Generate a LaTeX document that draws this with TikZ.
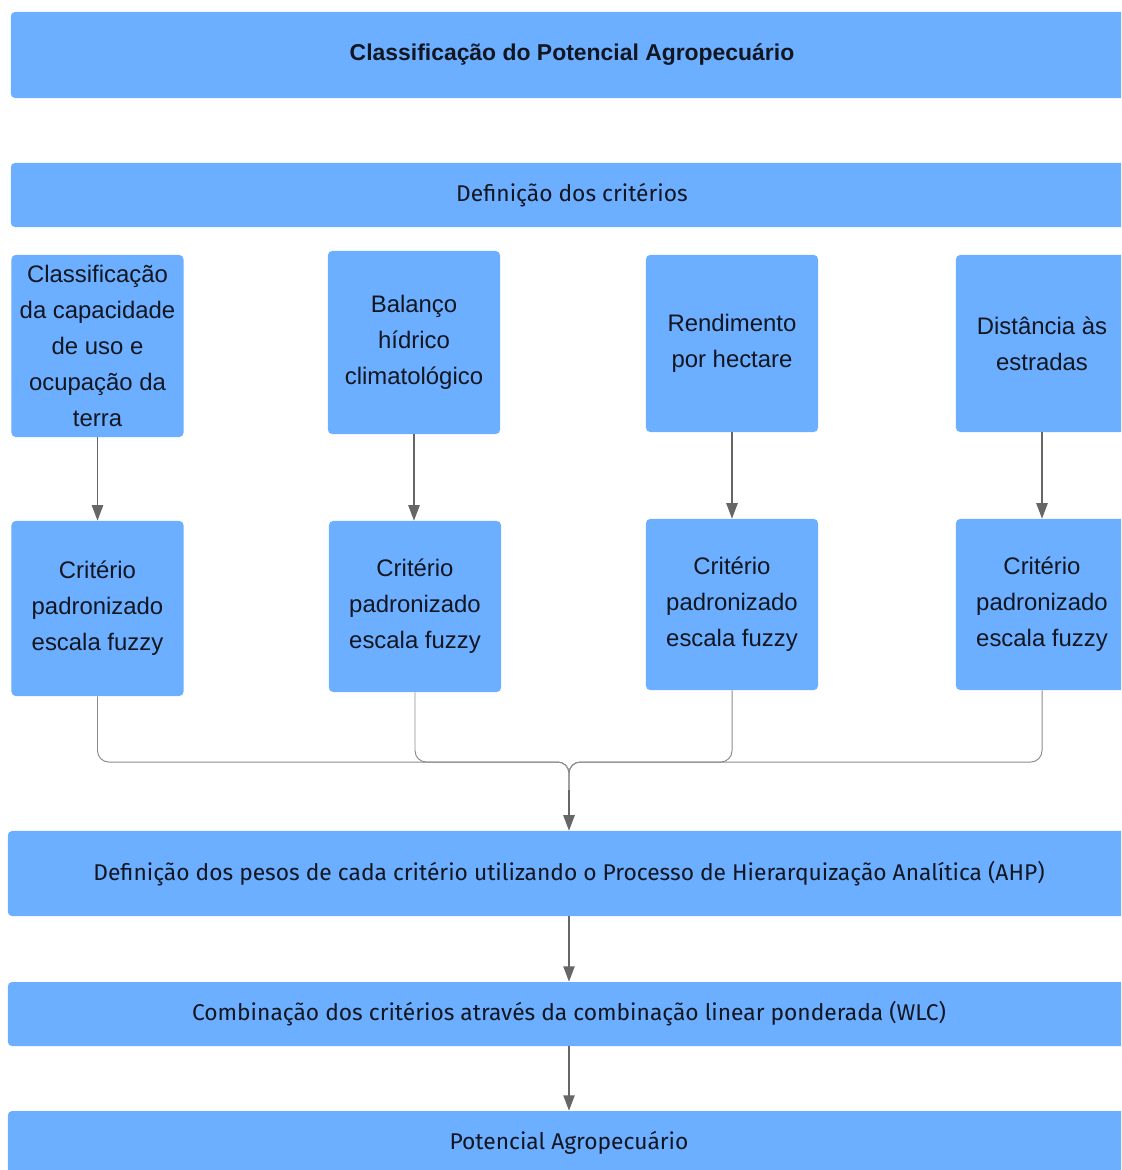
\documentclass[tikz,border=0pt]{standalone}
\usepackage{fontspec}
\setmainfont{Liberation Sans}
\newfontfamily\firafont{Fira Sans}
\usetikzlibrary{arrows.meta,positioning}
\definecolor{boxblue}{HTML}{6CAEFF}
\definecolor{arrowgray}{HTML}{666666}
\definecolor{linkgray}{HTML}{8C8C8C}
\definecolor{textdark}{HTML}{111620}

\begin{document}
\begin{tikzpicture}[x=0.025cm,y=-0.025cm,
  every node/.style={font=\fontsize{17}{25.5}\selectfont,text=textdark},
  box/.style={fill=boxblue,rounded corners=3pt,align=center,inner sep=0pt},
  crit/.style={box,minimum width=4.3cm},
  wide/.style={box,minimum width=28.05cm,font=\firafont\fontsize{16.2}{19}\selectfont},
  arr/.style={draw=arrowgray,line width=1.1pt,-{Triangle[length=11pt,width=8pt]}},
  link/.style={draw=linkgray,line width=0.7pt,rounded corners=8pt}]
\clip (0,0) rectangle (1121,1170);

\node[box,minimum width=28.05cm,minimum height=2.15cm,font=\bfseries\fontsize{16.3}{19}\selectfont] (title) at (572,55) {Classificação do Potencial Agropecuário};
\node[wide,minimum height=1.6cm] (defc) at (572,195) {Definição dos critérios};

\node[crit,minimum height=4.55cm] (cA) at (97.5,346) {Classificação\\da capacidade\\de uso e\\ocupação da\\terra};
\node[crit,minimum height=4.575cm] (cB) at (414,342.5) {Balanço\\hídrico\\climatológico};
\node[crit,minimum height=4.425cm] (cC) at (732,343.5) {Rendimento\\por hectare};
\node[crit,minimum height=4.425cm] (cD) at (1042,343.5) {Distância às\\estradas};

\node[crit,minimum height=4.375cm] (pA) at (97.5,608.5) {Critério\\padronizado\\escala fuzzy};
\node[crit,minimum height=4.275cm] (pB) at (415,606.5) {Critério\\padronizado\\escala fuzzy};
\node[crit,minimum height=4.275cm] (pC) at (732,604.5) {Critério\\padronizado\\escala fuzzy};
\node[crit,minimum height=4.275cm] (pD) at (1042,604.5) {Critério\\padronizado\\escala fuzzy};

\node[wide,minimum height=2.125cm] (ahp) at (569,873.5) {Definição dos pesos de cada critério utilizando o Processo de Hierarquização Analítica (AHP)};
\node[wide,minimum height=1.6cm] (wlc) at (569,1014) {Combinação dos critérios através da combinação linear ponderada (WLC)};
\node[wide,minimum height=1.6cm] (pot) at (569,1143) {Potencial Agropecuário};

\draw[arr] (cA) -- (pA);
\draw[arr] (cB.south) -- (cB.south |- pB.north);
\draw[arr] (cC) -- (pC);
\draw[arr] (cD) -- (pD);

\coordinate (jn) at (569,762);
\coordinate (jd) at (569,790);
\foreach \n in {pA,pB,pC,pD}
  \draw[link] (\n.south) |- (jn) -- (jd);
\draw[arr] (jd) -- (ahp.north);
\draw[arr] (ahp) -- (wlc);
\draw[arr] (wlc) -- (pot);
\end{tikzpicture}
\end{document}
